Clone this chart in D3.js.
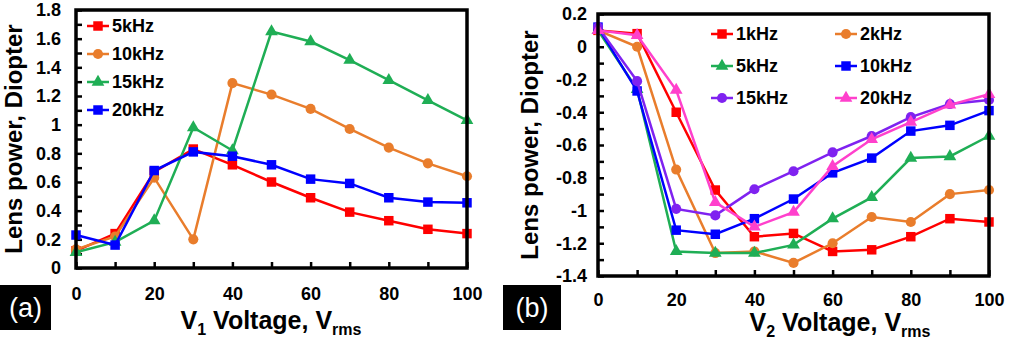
<!DOCTYPE html>
<html>
<head>
<meta charset="utf-8">
<script src="https://cdn.jsdelivr.net/npm/d3@7"></script>
<style>
  body { margin: 0; background: #fff; }
  svg { display: block; font-family: "Liberation Sans", Arial, sans-serif; font-weight: bold; }
</style>
</head>
<body>
<div id="chart"></div>
<script>
// panel (a): V1 sweep
const voltsA = [0, 10, 20, 30, 40, 50, 60, 70, 80, 90, 100];
const a5k  = [0.12, 0.24, 0.67, 0.83, 0.72, 0.60, 0.49, 0.39, 0.33, 0.27, 0.24];
const a10k = [0.13, 0.22, 0.63, 0.20, 1.29, 1.21, 1.11, 0.97, 0.84, 0.73, 0.64];
const a15k = [0.11, 0.18, 0.33, 0.98, 0.82, 1.65, 1.58, 1.45, 1.31, 1.17, 1.03];
const a20k = [0.23, 0.16, 0.68, 0.81, 0.78, 0.72, 0.62, 0.59, 0.49, 0.46, 0.455];

// panel (b): V2 sweep
const voltsB = [0, 10, 20, 30, 40, 50, 60, 70, 80, 90, 100];
const b1k  = [0.10, 0.08, -0.40, -0.875, -1.16, -1.14, -1.25, -1.24, -1.16, -1.05, -1.07];
const b2k  = [0.10, 0.00, -0.75, -1.26, -1.25, -1.32, -1.20, -1.04, -1.07, -0.90, -0.875];
const b5k  = [0.10, -0.26, -1.25, -1.26, -1.26, -1.21, -1.05, -0.92, -0.68, -0.67, -0.545];
const b10k = [0.12, -0.27, -1.12, -1.145, -1.05, -0.93, -0.77, -0.68, -0.515, -0.48, -0.39];
const b15k = [0.12, -0.21, -0.99, -1.03, -0.87, -0.76, -0.645, -0.545, -0.43, -0.35, -0.325];
const b20k = [0.10, 0.07, -0.265, -0.95, -1.10, -1.01, -0.73, -0.565, -0.46, -0.355, -0.29];

const yTicksA = [0, 0.2, 0.4, 0.6, 0.8, 1, 1.2, 1.4, 1.6, 1.8];
const yTicksB = [0.2, 0, -0.2, -0.4, -0.6, -0.8, -1, -1.2, -1.4];
const xTicks = [0, 20, 40, 60, 80, 100];

const seriesA = [
  { name: "5kHz",  values: a5k,  color: "#ff0000", shape: "square" },
  { name: "10kHz", values: a10k, color: "#e97d2c", shape: "circle" },
  { name: "15kHz", values: a15k, color: "#1fae55", shape: "triangle" },
  { name: "20kHz", values: a20k, color: "#0000ff", shape: "square" }
];

const seriesB = [
  { name: "1kHz",  values: b1k,  color: "#ff0000", shape: "square" },
  { name: "2kHz",  values: b2k,  color: "#e97d2c", shape: "circle" },
  { name: "5kHz",  values: b5k,  color: "#1fae55", shape: "triangle" },
  { name: "10kHz", values: b10k, color: "#0000ff", shape: "square" },
  { name: "15kHz", values: b15k, color: "#7f22f0", shape: "circle" },
  { name: "20kHz", values: b20k, color: "#ff40cc", shape: "triangle" }
];

const width = 1011, height = 345;

const svg = d3.select("#chart").append("svg")
  .attr("width", width)
  .attr("height", height)
  .attr("viewBox", [0, 0, width, height]);

function symbolFor(shape) {
  if (shape === "circle") return d3.symbol(d3.symbolCircle, 80)();
  if (shape === "triangle") return d3.symbol(d3.symbolTriangle, 70)();
  return d3.symbol(d3.symbolSquare, 90)();
}

function drawPanel(opts) {
  const x = d3.scaleLinear().domain([0, 100]).range([opts.x0, opts.x1]);
  const y = d3.scaleLinear().domain(opts.yDomain).range([opts.y1, opts.y0]);

  const g = svg.append("g");

  // minor ticks every 0.1 / every 10, drawn inward
  const yMinor = d3.range(Math.round(opts.yDomain[0] * 10), Math.round(opts.yDomain[1] * 10) + 1)
    .map(function (v) { return v / 10; });
  const xMinor = d3.range(0, 101, 10);

  g.append("g")
    .attr("transform", `translate(${opts.x0},0)`)
    .call(d3.axisLeft(y).tickValues(yMinor).tickSize(-6).tickFormat(""))
    .call(function (s) { s.select(".domain").remove(); })
    .selectAll("line").attr("stroke", "#000").attr("stroke-width", 2.5);

  g.append("g")
    .attr("transform", `translate(0,${opts.y1})`)
    .call(d3.axisBottom(x).tickValues(xMinor).tickSize(-6).tickFormat(""))
    .call(function (s) { s.select(".domain").remove(); })
    .selectAll("line").attr("stroke", "#000").attr("stroke-width", 2.5);

  // tick labels
  g.append("g")
    .attr("transform", `translate(${opts.x0},0)`)
    .call(d3.axisLeft(y).tickValues(opts.yTicks).tickSize(0).tickPadding(opts.yPad)
      .tickFormat(function (d) { return String(Math.round(d * 10) / 10); }))
    .call(function (s) { s.select(".domain").remove(); })
    .selectAll("text")
    .attr("fill", "#000")
    .style("font-size", "18px")
    .style("font-family", "'Liberation Sans', Arial, sans-serif")
    .style("font-weight", "bold");

  g.append("g")
    .attr("transform", `translate(0,${opts.y1})`)
    .call(d3.axisBottom(x).tickValues(xTicks).tickSize(0).tickPadding(opts.xPad))
    .call(function (s) { s.select(".domain").remove(); })
    .selectAll("text")
    .attr("fill", "#000")
    .style("font-size", "18px")
    .style("font-family", "'Liberation Sans', Arial, sans-serif")
    .style("font-weight", "bold");

  // series
  const line = d3.line()
    .x(function (d, i) { return x(opts.volts[i]); })
    .y(function (d) { return y(d); });

  opts.series.forEach(function (s) {
    g.append("path")
      .datum(s.values)
      .attr("d", line)
      .attr("fill", "none")
      .attr("stroke", s.color)
      .attr("stroke-width", 2.5);

    g.selectAll(null)
      .data(s.values)
      .join("path")
      .attr("d", symbolFor(s.shape))
      .attr("transform", function (d, i) { return `translate(${x(opts.volts[i])},${y(d)})`; })
      .attr("fill", s.color);
  });

  // frame
  g.append("rect")
    .attr("x", opts.x0)
    .attr("y", opts.y0)
    .attr("width", opts.x1 - opts.x0)
    .attr("height", opts.y1 - opts.y0)
    .attr("fill", "none")
    .attr("stroke", "#000")
    .attr("stroke-width", 3.5);

  // legend
  opts.legend.forEach(function (p, i) {
    const s = opts.series[i];
    const lg = g.append("g").attr("transform", `translate(${p[0]},${p[1]})`);
    lg.append("line")
      .attr("x1", 0).attr("x2", 22)
      .attr("stroke", s.color).attr("stroke-width", 2.5);
    lg.append("path")
      .attr("d", symbolFor(s.shape))
      .attr("transform", "translate(11,0)")
      .attr("fill", s.color);
    lg.append("text")
      .attr("x", 25)
      .attr("dy", "0.35em")
      .style("font-size", "18px")
      .text(s.name);
  });

  // y title
  svg.append("text")
    .attr("transform", `translate(${opts.yTitleX},${(opts.y0 + opts.y1) / 2}) rotate(-90)`)
    .attr("text-anchor", "middle")
    .style("font-size", "24px")
    .text("Lens power, Diopter");

  // x title with subscripts
  const t = svg.append("text")
    .attr("x", opts.xTitleX)
    .attr("y", opts.xTitleY)
    .attr("text-anchor", "middle")
    .style("font-size", "25px");
  t.append("tspan").text("V");
  t.append("tspan").attr("dy", 6).style("font-size", "16px").text(opts.sub);
  t.append("tspan").attr("dy", -6).text(" Voltage, V");
  t.append("tspan").attr("dy", 6).style("font-size", "16px").text("rms");

  // panel tag
  svg.append("rect")
    .attr("x", opts.tag[0]).attr("y", 285)
    .attr("width", opts.tag[1]).attr("height", 45)
    .attr("fill", "#000");
  svg.append("text")
    .attr("x", opts.tag[0] + opts.tag[1] / 2)
    .attr("y", 308)
    .attr("dy", "0.35em")
    .attr("text-anchor", "middle")
    .attr("fill", "#fff")
    .style("font-size", "27px")
    .style("font-weight", "normal")
    .text(opts.label);
}

drawPanel({
  x0: 76, x1: 467, y0: 10, y1: 268,
  yDomain: [0, 1.8], yTicks: yTicksA, yPad: 15, xPad: 19,
  volts: voltsA, series: seriesA,
  legend: [[87, 26], [87, 54], [87, 82], [87, 110]],
  yTitleX: 22, xTitleX: 271, xTitleY: 329, sub: "1",
  tag: [0, 51], label: "(a)"
});

drawPanel({
  x0: 598, x1: 989, y0: 14, y1: 276,
  yDomain: [-1.4, 0.2], yTicks: yTicksB, yPad: 11, xPad: 17,
  volts: voltsB, series: seriesB,
  legend: [[711, 34], [835, 34], [711, 66], [835, 66], [711, 98], [835, 98]],
  yTitleX: 538, xTitleX: 840, xTitleY: 331, sub: "2",
  tag: [503, 58], label: "(b)"
});
</script>
</body>
</html>
